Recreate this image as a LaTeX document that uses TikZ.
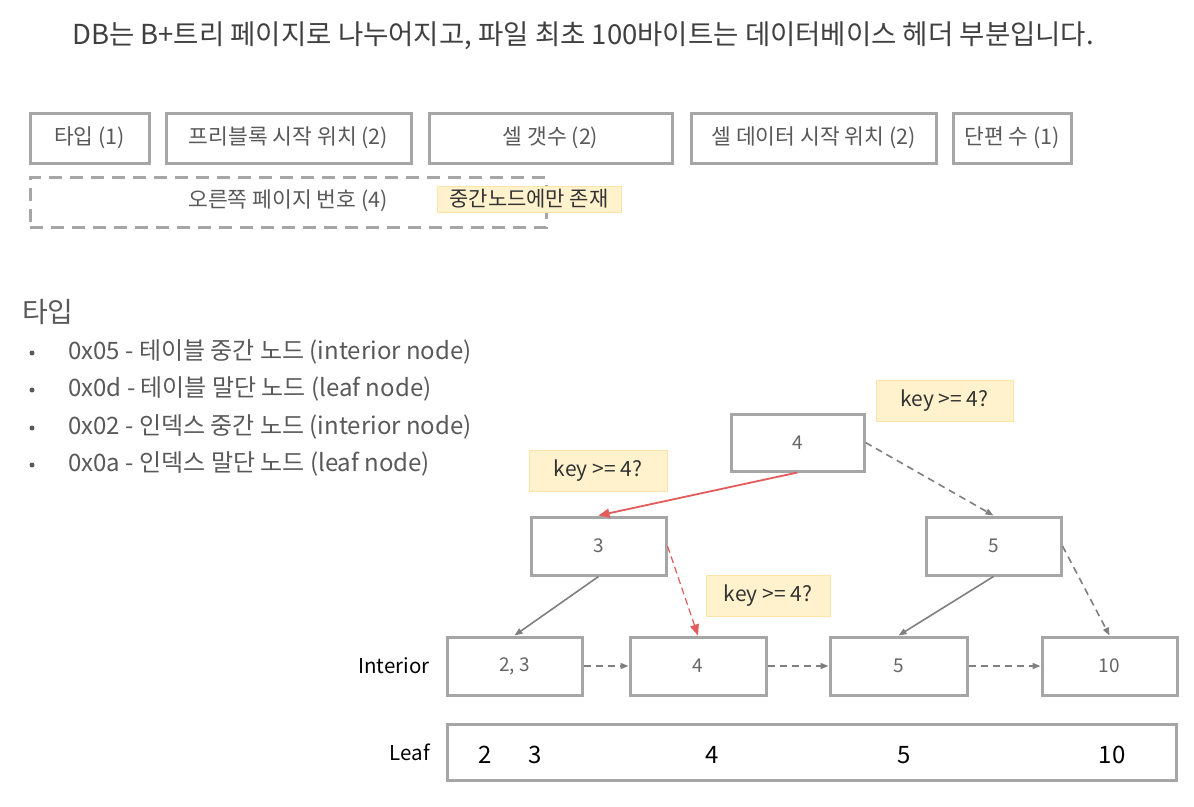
\documentclass[tikz,border=0pt]{standalone}
\usepackage{fontspec}
\setmainfont{Noto Sans CJK KR}
\usepackage{tikz}
\usetikzlibrary{positioning,arrows.meta}
\definecolor{boxgray}{HTML}{A6A6A6}
\definecolor{txtgray}{HTML}{595959}
\definecolor{arrgray}{HTML}{7F7F7F}
\definecolor{hotred}{HTML}{E35B5B}
\definecolor{tagfill}{HTML}{FFF2CC}
\definecolor{tagline}{HTML}{FFE4A8}
\tikzset{
  title/.style     = {font=\fontsize{27.5}{30}\selectfont, text=black!75, inner sep=0pt},
  fieldbox/.style  = {draw=boxgray, line width=3pt, fill=white, minimum height=50pt, inner sep=0pt, font=\fontsize{21.5}{24}\selectfont, text=txtgray},
  dashbox/.style   = {draw=boxgray, line width=3pt, dash pattern=on 13pt off 8pt, minimum height=50pt, inner sep=0pt},
  tag/.style       = {draw=tagline, fill=tagfill, line width=1pt, inner sep=0pt, font=\fontsize{21}{24}\selectfont, text=black!80},
  head/.style      = {font=\fontsize{28}{32}\selectfont, text=txtgray, anchor=west, inner sep=0pt},
  item/.style      = {font=\fontsize{24}{28}\selectfont, text=txtgray, anchor=west, inner sep=0pt},
  dot/.style       = {circle, fill=txtgray, inner sep=0pt, minimum size=5pt},
  treebox/.style   = {draw=boxgray, line width=3pt, fill=white, minimum width=133pt, minimum height=56pt, inner sep=0pt, font=\fontsize{19}{22}\selectfont, text=black!60},
  rowlbl/.style    = {font=\fontsize{20.5}{24}\selectfont, text=black, inner sep=0pt},
  leafnum/.style   = {font=\fontsize{24}{28}\selectfont, text=black, inner sep=0pt},
  link/.style      = {draw=arrgray, line width=1.6pt, -{Triangle[length=8pt,width=6pt]}},
  dlink/.style     = {link, dash pattern=on 7pt off 5pt},
  hot/.style       = {draw=hotred, line width=1.8pt, -{Triangle[length=11pt,width=9pt]}},
}

\begin{document}
\begin{tikzpicture}[x=1pt,y=-1pt]
  \useasboundingbox (0,0) rectangle (1194,806);

  \node[title] (hdr) at (583,36) {DB는 B+트리 페이지로 나누어지고, 파일 최초 100바이트는 데이터베이스 헤더 부분입니다.};

  \node[fieldbox, minimum width=119pt] (ftype)  at (89.5,138)  {타입 (1)};
  \node[fieldbox, minimum width=245pt] (ffree)  at (288.5,138) {프리블록 시작 위치 (2)};
  \node[fieldbox, minimum width=243pt] (fcells) at (550.5,138) {셀 갯수 (2)};
  \node[fieldbox, minimum width=245pt] (fdata)  at (813.5,138) {셀 데이터 시작 위치 (2)};
  \node[fieldbox, minimum width=118pt] (ffrag)  at (1012,138)  {단편 수 (1)};
  \node[dashbox, minimum width=516pt] (fright) at (288,202.5) {};
  \node[font=\fontsize{21.5}{24}\selectfont, text=txtgray] (frighttxt) at (288,201) {오른쪽 페이지 번호 (4)};
  \node[tag, minimum width=184pt, minimum height=26pt] (tonly) at (529,199) {중간노드에만 존재};

  \node[head] (htype) at (22,312) {타입};
  \node[dot] (b1) at (32,353) {};
  \node[item] (t1) at (68,352) {0x05 - 테이블 중간 노드 (interior node)};
  \node[dot] (b2) at (32,390) {};
  \node[item] (t2) at (68,389) {0x0d - 테이블 말단 노드 (leaf node)};
  \node[dot] (b3) at (32,428) {};
  \node[item] (t3) at (68,427) {0x02 - 인덱스 중간 노드 (interior node)};
  \node[dot] (b4) at (32,465) {};
  \node[item] (t4) at (68,464) {0x0a - 인덱스 말단 노드 (leaf node)};

  \node[treebox, minimum height=57pt] (root) at (797.5,442.5) {4};
  \node[treebox, minimum width=135pt, minimum height=58pt] (n3) at (598.5,546) {3};
  \node[treebox, minimum width=135pt, minimum height=58pt] (n5) at (993.5,546) {5};
  \node[tag, minimum width=137pt, minimum height=41pt] (q1) at (944.5,400.5) {key >= 4?};
  \node[tag, minimum width=138pt, minimum height=41pt] (q2) at (598,470.5) {key >= 4?};
  \node[tag, minimum width=124pt, minimum height=41pt] (q3) at (768,595.5) {key >= 4?};

  \node[rowlbl] (lint) at (394,666) {Interior};
  \node[treebox, minimum width=135pt, minimum height=58pt] (i23) at (514.5,666) {2, 3};
  \node[treebox, minimum width=136pt, minimum height=58pt] (i4)  at (698,666)   {4};
  \node[treebox, minimum width=137pt, minimum height=58pt] (i5)  at (898.5,666) {5};
  \node[treebox, minimum width=135pt, minimum height=58pt] (i10) at (1109.5,666) {10};

  \node[rowlbl] (lleaf) at (410,752) {Leaf};
  \node[treebox, minimum width=729pt, minimum height=56pt] (leaf) at (811.5,752) {};
  \node[leafnum] (k2)  at (485,755)  {2};
  \node[leafnum] (k3)  at (535,755)  {3};
  \node[leafnum] (k4)  at (712,755)  {4};
  \node[leafnum] (k5)  at (904,755)  {5};
  \node[leafnum] (k10) at (1112,755) {10};

  \draw[hot] (root.south) -- (n3.north);
  \draw[dlink] (root.east) -- (n5.north);
  \draw[link] (n3.south) -- (i23.north);
  \draw[hot, dash pattern=on 7pt off 4pt, line width=1.2pt] (n3.east) -- (i4.north);
  \draw[link] (n5.south) -- (i5.north);
  \draw[dlink] (n5.east) -- (i10.north);
  \draw[dlink] (i23.east) -- (i4.west);
  \draw[dlink] (i4.east) -- (i5.west);
  \draw[dlink] (i5.east) -- (i10.west);
\end{tikzpicture}
\end{document}
